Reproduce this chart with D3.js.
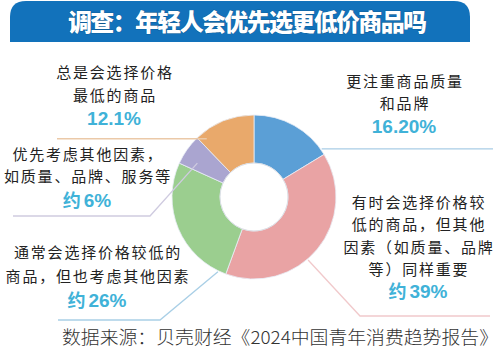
<!DOCTYPE html>
<html>
<head>
<meta charset="utf-8">
<script src="https://cdn.jsdelivr.net/npm/d3@7/dist/d3.min.js"></script>
<style>
  html, body { margin: 0; padding: 0; background: #fff; }
  svg { display: block; }
</style>
</head>
<body>
<svg id="chart" width="500" height="348"></svg>
<script>
// Survey answers, in drawing order (clockwise from 12 o'clock)
const categories = [
  "更注重商品质量和品牌",
  "有时会选择价格较低的商品，但其他因素（如质量、品牌等）同样重要",
  "通常会选择价格较低的商品，但也考虑其他因素",
  "优先考虑其他因素，如质量、品牌、服务等",
  "总是会选择价格最低的商品"
];
const values = [16.2, 39, 26, 6, 12.1];
const valueLabels = ["16.20%", "约39%", "约26%", "约6%", "12.1%"];
const labelLines = [
  ["更注重商品质量", "和品牌"],
  ["有时会选择价格较", "低的商品，但其他", "因素（如质量、品牌", "等）同样重要"],
  ["通常会选择价格较低的", "商品，但也考虑其他因素"],
  ["优先考虑其他因素，", "如质量、品牌、服务等"],
  ["总是会选择价格", "最低的商品"]
];
const titleText = "调查：年轻人会优先选更低价商品吗";
const sourceText = "数据来源：贝壳财经《2024中国青年消费趋势报告》";

const sliceColors = ["#5b9fd6", "#e9a3a4", "#9bce8f", "#aaa5d0", "#e9a96b"];
const leaderColors = ["#a9cde6", "#f1c9cb", "#a9cfe6", "#cfcbe0", "#ebc9a8"];

const svg = d3.select("#chart");
const CJK = "'Noto Sans CJK SC', 'Noto Sans', sans-serif";

// Title banner with rounded top corners
const bx0 = 10, bx1 = 470, by0 = 1, by1 = 42, br = 16;
svg.append("path")
  .attr("d", `M${bx0},${by1} L${bx0},${by0 + br} Q${bx0},${by0} ${bx0 + br},${by0}
              L${bx1 - br},${by0} Q${bx1},${by0} ${bx1},${by0 + br} L${bx1},${by1} Z`)
  .attr("fill", "#1272bb");
svg.append("text")
  .attr("x", 68).attr("y", 31)
  .attr("textLength", 359).attr("lengthAdjust", "spacing")
  .attr("font-family", CJK).attr("font-size", 24).attr("font-weight", 900)
  .attr("fill", "#ffffff")
  .style("paint-order", "stroke").attr("stroke", "#0b4f85").attr("stroke-width", 0.6)
  .text(titleText);

// Donut
const cx = 254, cy = 197, rOuter = 82, rInner = 34;
const pie = d3.pie().sort(null).value(d => d)(values);
const arc = d3.arc().innerRadius(rInner).outerRadius(rOuter);
const g = svg.append("g").attr("transform", `translate(${cx},${cy})`);
g.selectAll("path.slice").data(pie).join("path")
  .attr("class", "slice")
  .attr("d", arc)
  .attr("fill", (d, i) => sliceColors[i])
  .attr("stroke", "#e8eef6").attr("stroke-width", 0.8);
g.append("circle").attr("r", rInner).attr("fill", "none")
  .attr("stroke", "#d9dde3").attr("stroke-width", 0.8);

// Point on a slice: fraction t along its angle span, at radius r
function slicePoint(i, t, r) {
  const a = pie[i].startAngle + t * (pie[i].endAngle - pie[i].startAngle);
  return [cx + r * Math.sin(a), cy - r * Math.cos(a)];
}

// Leader lines: label-side points followed by the point on the slice
const leaders = [
  (p) => [[493, p[1]], p],
  (p) => [[490, 316], [360, 316], p],
  (p) => [[58, 320], [160, 320], p],
  (p) => [[13, 216], [150, 216], p],
  (p) => [[57, p[1]], p]
];
const leaderAnchors = [[0.93, 83], [0.57, 83], [0.06, 83], [0.3, 66], [0.11, 75]];
const line = d3.line();
leaders.forEach((f, i) => {
  const p = slicePoint(i, leaderAnchors[i][0], leaderAnchors[i][1]);
  svg.append("path")
    .attr("d", line(f(p)))
    .attr("fill", "none")
    .attr("stroke", leaderColors[i])
    .attr("stroke-width", 1.3);
});

// Labels: centre x, first baseline, line step, value baseline
const labelLayout = [
  { x: 404, y: 87, step: 22, vy: 133 },
  { x: 418, y: 208, step: 22.3, vy: 298 },
  { x: 97, y: 258, step: 24, vy: 307 },
  { x: 87, y: 160, step: 22, vy: 207 },
  { x: 114, y: 78, step: 23, vy: 125 }
];
labelLines.forEach((lines, i) => {
  const L = labelLayout[i];
  const t = svg.append("text")
    .attr("font-family", CJK).attr("font-size", 15)
    .attr("fill", "#222").attr("text-anchor", "middle")
    .attr("letter-spacing", 1.8);
  lines.forEach((s, k) => {
    t.append("tspan").attr("x", L.x + 1).attr("y", L.y + k * L.step).text(s);
  });
  const v = valueLabels[i];
  const vt = svg.append("text")
    .attr("x", L.x).attr("y", L.vy)
    .attr("text-anchor", "middle")
    .attr("font-size", 19).attr("font-weight", 700)
    .attr("fill", "#40b2d8");
  if (v.startsWith("约")) {
    vt.append("tspan").attr("font-family", CJK).attr("font-size", 18).text("约");
    vt.append("tspan").attr("font-family", "'Liberation Sans', Arial, sans-serif").attr("dx", 3).text(v.slice(1));
  } else {
    vt.attr("font-family", "'Liberation Sans', Arial, sans-serif").text(v);
  }
});

// Source note
svg.append("text")
  .attr("x", 62).attr("y", 344)
  .attr("textLength", 436).attr("lengthAdjust", "spacingAndGlyphs")
  .attr("font-family", CJK).attr("font-size", 18).attr("font-weight", 300)
  .attr("fill", "#333")
  .text(sourceText);
</script>
</body>
</html>
